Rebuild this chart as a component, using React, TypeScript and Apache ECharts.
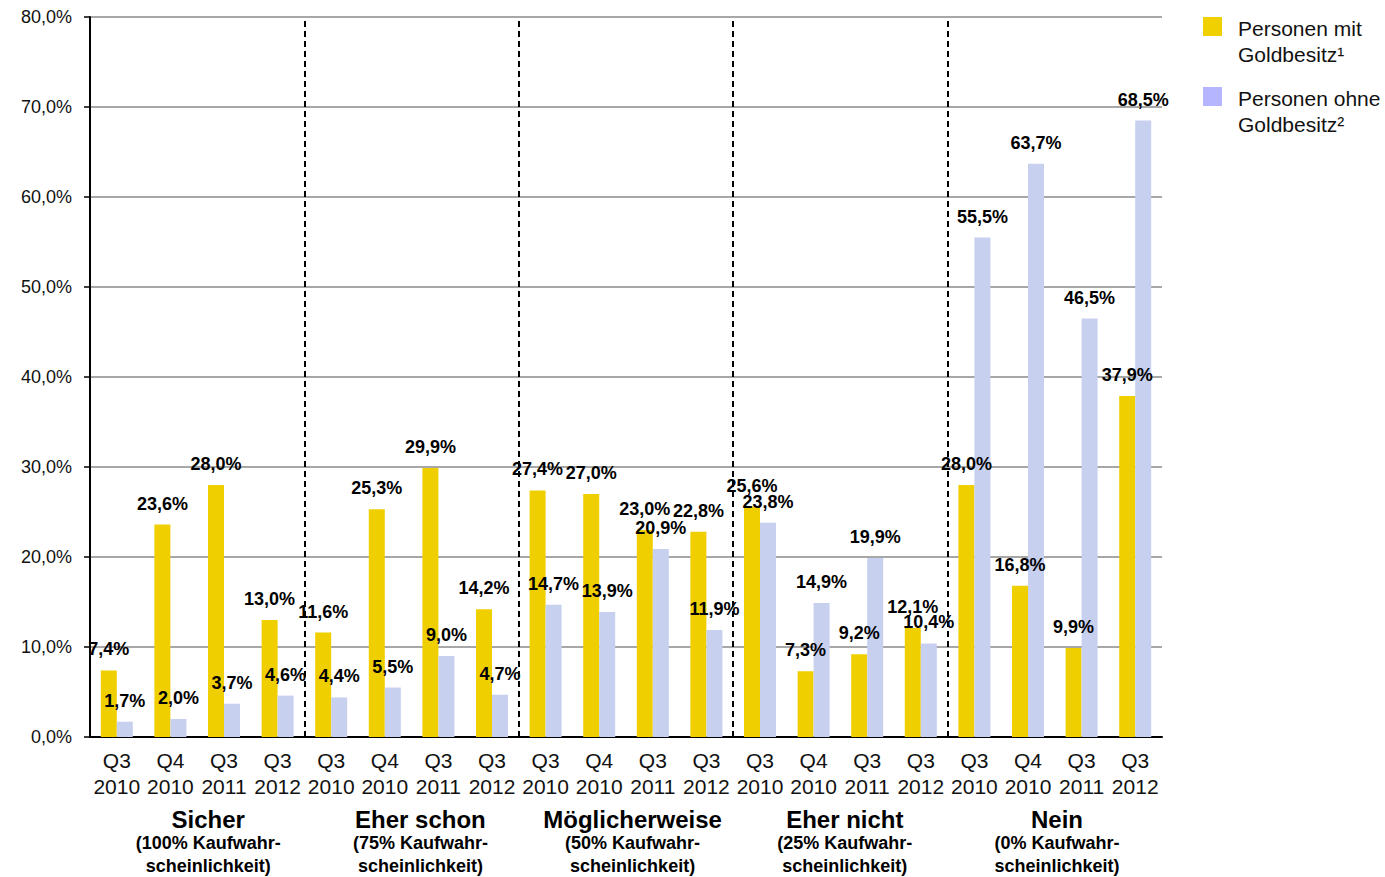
import React, { useEffect, useRef } from "react";
import * as echarts from "echarts";

const periods = ["Q3\n2010", "Q4\n2010", "Q3\n2011", "Q3\n2012"];
const groups = ["Sicher", "Eher schon", "Möglicherweise", "Eher nicht", "Nein"];
const groupSub = [
  "(100% Kaufwahr-\nscheinlichkeit)",
  "(75% Kaufwahr-\nscheinlichkeit)",
  "(50% Kaufwahr-\nscheinlichkeit)",
  "(25% Kaufwahr-\nscheinlichkeit)",
  "(0% Kaufwahr-\nscheinlichkeit)",
];
const withGold = [7.4, 23.6, 28.0, 13.0, 11.6, 25.3, 29.9, 14.2, 27.4, 27.0, 23.0, 22.8, 25.6, 7.3, 9.2, 12.1, 28.0, 16.8, 9.9, 37.9];
const withoutGold = [1.7, 2.0, 3.7, 4.6, 4.4, 5.5, 9.0, 4.7, 14.7, 13.9, 20.9, 11.9, 23.8, 14.9, 19.9, 10.4, 55.5, 63.7, 46.5, 68.5];
const yTicks = [0, 10, 20, 30, 40, 50, 60, 70, 80];
const seriesNames = ["Personen mit\nGoldbesitz¹", "Personen ohne\nGoldbesitz²"];
const groupBoundaries = [4, 8, 12, 16];

const categories = groups.flatMap((g) => periods.map((p) => p + "|" + g));

const fmt = (v: number) => v.toFixed(1).replace(".", ",") + "%";
const FONT = "'Liberation Sans', Arial, Helvetica, sans-serif";

export default function App() {
  const ref = useRef<HTMLDivElement>(null);
  useEffect(() => {
    if (!ref.current) return;
    const chart = echarts.init(ref.current, undefined, { renderer: "svg" });
    const W = 1385;
    const gridLeft = 90;
    const gridRight = 223;
    const gridTop = 17;
    const gridBottom = 140;
    const gridW = W - gridLeft - gridRight;
    const n = categories.length;

    const graphics: any[] = [];
    groups.forEach((g, gi) => {
      const cx = gridLeft + (gridW * (gi * 4 + 2)) / n + 11 - 2.2 * gi;
      graphics.push({
        type: "text",
        x: cx,
        y: 819,
        style: {
          text: g,
          font: `bold 24px ${FONT}`,
          fill: "#000",
          textAlign: "center",
          textVerticalAlign: "middle",
        },
      });
      graphics.push({
        type: "text",
        x: cx,
        y: 831,
        style: {
          text: groupSub[gi],
          font: `bold 18px ${FONT}`,
          lineHeight: 23,
          fill: "#000",
          textAlign: "center",
          textVerticalAlign: "top",
        },
      });
    });
    const legendColors = ["#F0D000", "#B4B4FF"];
    seriesNames.forEach((s, i) => {
      const top = 17 + i * 70;
      graphics.push({
        type: "rect",
        shape: { x: 1203, y: top, width: 19, height: 19 },
        style: { fill: legendColors[i] },
      });
      graphics.push({
        type: "text",
        x: 1238,
        y: top - 2,
        style: {
          text: s,
          font: `21px ${FONT}`,
          lineHeight: 26,
          fill: "#111",
          textAlign: "left",
          textVerticalAlign: "top",
        },
      });
    });

    const labelCfg = {
      show: true,
      position: "top",
      distance: 12,
      formatter: (p: any) => fmt(p.value),
      color: "#000",
      fontWeight: "bold",
      fontSize: 18,
      fontFamily: FONT,
    };

    chart.setOption({
      animation: false,
      backgroundColor: "#fff",
      grid: { left: gridLeft, right: gridRight, top: gridTop, bottom: gridBottom, containLabel: false },
      xAxis: [
        {
          type: "category",
          data: categories,
          axisLine: { lineStyle: { color: "#000", width: 2 } },
          axisTick: { show: false },
          splitLine: { show: false },
          axisLabel: {
            interval: 0,
            margin: 10,
            fontSize: 21,
            lineHeight: 26,
            fontFamily: FONT,
            color: "#111",
            formatter: (v: string) => v.split("|")[0],
          },
        },
        {
          type: "value",
          min: 0,
          max: n,
          show: false,
          splitLine: { show: false },
        },
      ],
      yAxis: {
        type: "value",
        min: 0,
        max: 80,
        interval: 10,
        axisLine: { show: true, lineStyle: { color: "#000", width: 2 } },
        axisTick: { show: true, length: 6, lineStyle: { color: "#000", width: 1.5 } },
        splitLine: { show: true, lineStyle: { color: "#8a8a8a", width: 1.5 } },
        axisLabel: {
          margin: 18,
          fontSize: 18,
          fontFamily: FONT,
          color: "#111",
          formatter: (v: number) => (yTicks.includes(v) ? fmt(v) : ""),
        },
      },
      series: [
        {
          name: seriesNames[0],
          type: "bar",
          data: withGold,
          barWidth: 16,
          barGap: "0%",
          itemStyle: { color: "#F0CF00" },
          label: labelCfg,
        },
        {
          name: seriesNames[1],
          type: "bar",
          data: withoutGold,
          barWidth: 16,
          barGap: "0%",
          itemStyle: { color: "#C8D0F0" },
          label: labelCfg,
        },
        {
          name: "boundaries",
          type: "line",
          xAxisIndex: 1,
          data: [],
          silent: true,
          markLine: {
            silent: true,
            symbol: "none",
            label: { show: false },
            lineStyle: { color: "#000", width: 2, type: [6, 4] },
            data: groupBoundaries.map((b) => ({ xAxis: b })),
          },
        },
      ],
      graphic: graphics,
    });
    return () => chart.dispose();
  }, []);
  return <div ref={ref} style={{ width: 1385, height: 877, position: "absolute", left: 0, top: 0 }} />;
}
